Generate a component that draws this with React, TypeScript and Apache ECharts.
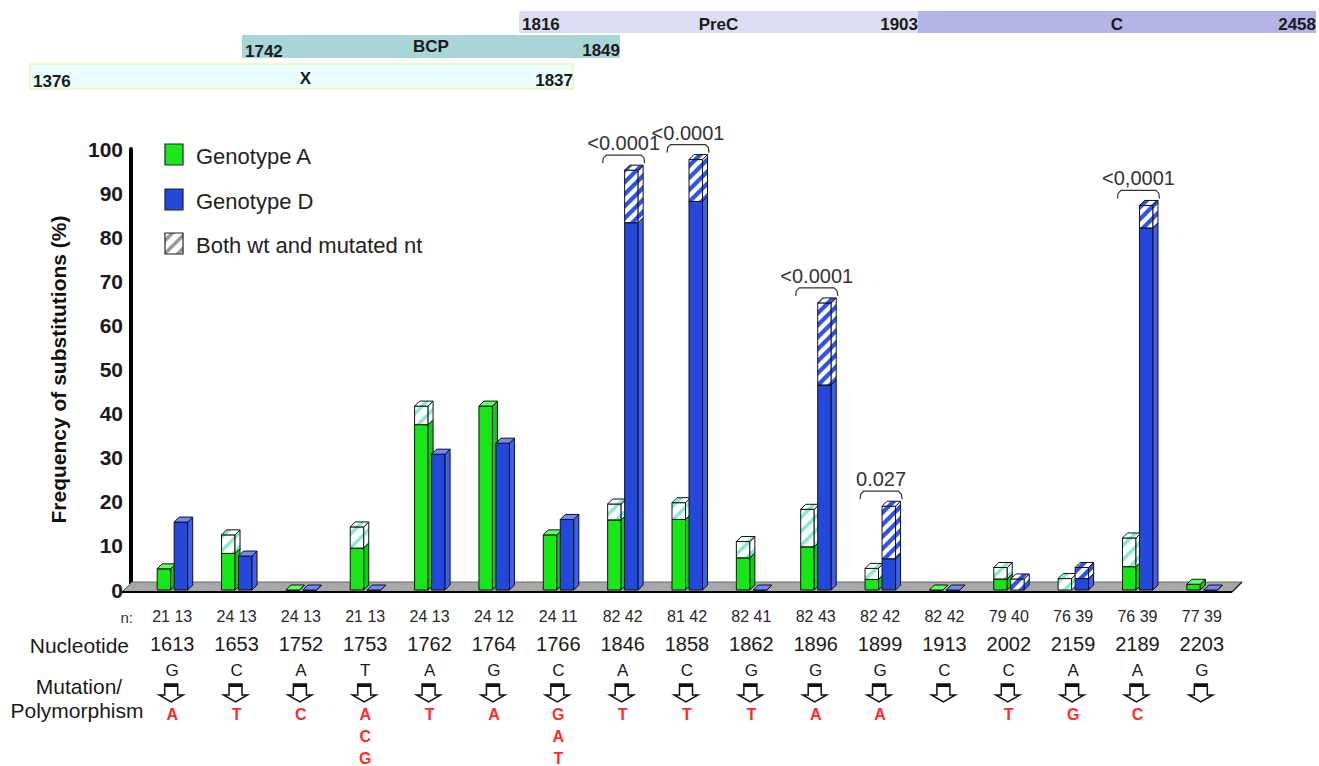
import React, { useEffect, useRef } from "react";
import * as echarts from "echarts";

const FONT = '"Liberation Sans", Arial, Helvetica, sans-serif';

// ---------- data ----------
const nucleotides = ["1613", "1653", "1752", "1753", "1762", "1764", "1766", "1846", "1858", "1862", "1896", "1899", "1913", "2002", "2159", "2189", "2203"];
const nGenotypeA = [21, 24, 24, 21, 24, 24, 24, 82, 81, 82, 82, 82, 82, 79, 76, 76, 77];
const nGenotypeD = [13, 13, 13, 13, 13, 12, 11, 42, 42, 41, 43, 42, 42, 40, 39, 39, 39];
const wildType = ["G", "C", "A", "T", "A", "G", "C", "A", "C", "G", "G", "G", "C", "C", "A", "A", "G"];
const mutated = [["A"], ["T"], ["C"], ["A", "C", "G"], ["T"], ["A"], ["G", "A", "T"], ["T"], ["T"], ["T"], ["A"], ["A"], [], ["T"], ["G"], ["C"], []];
// % with the mutated nt only (solid) and with both wt and mutated nt (hatched, stacked on top)
const genoASolid = [4.8, 8.3, 0, 9.5, 37.5, 41.7, 12.5, 15.9, 16.0, 7.3, 9.8, 2.4, 0, 2.5, 0, 5.3, 1.3];
const genoAMixed = [0, 4.2, 0, 4.8, 4.2, 0, 0, 3.6, 3.8, 3.7, 8.5, 2.5, 0, 2.6, 2.6, 6.5, 0];
const genoDSolid = [15.4, 7.7, 0, 0, 30.8, 33.3, 16.0, 83.3, 88.1, 0, 46.5, 7.1, 0, 0, 2.6, 82.1, 0];
const genoDMixed = [0, 0, 0, 0, 0, 0, 0, 11.9, 9.5, 0, 18.6, 11.9, 0, 2.5, 2.5, 5.1, 0];
const pIndex = [7, 8, 10, 11, 15];
const pLabel = ["<0.0001", "<0.0001", "<0.0001", "0.027", "<0,0001"];
const regionNames = ["PreC", "C", "BCP", "X"];
const regionStarts = ["1816", "", "1742", "1376"];
const regionEnds = ["1903", "2458", "1849", "1837"];
const legendNames = ["Genotype A", "Genotype D", "Both wt and mutated nt"];

// ---------- drawing helpers ----------
type Pt = [number, number];

function clipHalf(poly: Pt[], f: (p: Pt) => number): Pt[] {
  const out: Pt[] = [];
  for (let i = 0; i < poly.length; i++) {
    const a = poly[i];
    const b = poly[(i + 1) % poly.length];
    const fa = f(a);
    const fb = f(b);
    if (fa >= 0) out.push(a);
    if ((fa >= 0) !== (fb >= 0)) {
      const t = fa / (fa - fb);
      out.push([a[0] + t * (b[0] - a[0]), a[1] + t * (b[1] - a[1])]);
    }
  }
  return out;
}

function stripePolys(poly: Pt[], period: number, width: number, color: string): any[] {
  const sums = poly.map((p) => p[0] + p[1]);
  const lo = Math.min(...sums);
  const hi = Math.max(...sums);
  const els: any[] = [];
  for (let c = Math.floor(lo / period) * period; c < hi; c += period) {
    let s = clipHalf(poly, (p) => p[0] + p[1] - c);
    s = clipHalf(s, (p) => c + width - (p[0] + p[1]));
    if (s.length >= 3) els.push({ type: "polygon", silent: true, shape: { points: s }, style: { fill: color } });
  }
  return els;
}

interface Palette { front: string; side: string; top: string; hatch: string; period: number; width: number; }
const GREEN: Palette = { front: "#17e617", side: "#10cc10", top: "#62ff62", hatch: "#86eccb", period: 14, width: 5 };
const BLUE: Palette = { front: "#2447dc", side: "#3d5ff2", top: "#6f88ff", hatch: "#2f55e8", period: 12, width: 6 };

const BAR_W = 13.5;
const DEPTH = 5;

function face(points: Pt[], fill: string, pal: Palette, hatched: boolean): any[] {
  const els: any[] = [{ type: "polygon", shape: { points }, style: { fill: hatched ? "#ffffff" : fill } }];
  if (hatched) els.push(...stripePolys(points, pal.period, pal.width, pal.hatch));
  els.push({ type: "polygon", shape: { points }, style: { fill: "none", stroke: "#111", lineWidth: 1 } });
  return els;
}

function box3d(x0: number, yb: number, yt: number, pal: Palette, hatched: boolean): any[] {
  const w = BAR_W;
  const d = DEPTH;
  const front: Pt[] = [[x0, yt], [x0 + w, yt], [x0 + w, yb], [x0, yb]];
  const side: Pt[] = [[x0 + w, yb], [x0 + w + d, yb - d], [x0 + w + d, yt - d], [x0 + w, yt]];
  const top: Pt[] = [[x0, yt], [x0 + d, yt - d], [x0 + w + d, yt - d], [x0 + w, yt]];
  return [...face(front, pal.front, pal, hatched), ...face(side, pal.side, pal, hatched), ...face(top, pal.top, pal, hatched)];
}

function barSeries(name: string, solid: number[], mixed: number[], offset: number, pal: Palette, z: number) {
  return {
    type: "custom",
    name,
    z,
    coordinateSystem: "cartesian2d",
    data: solid.map((s, i) => [i, s, mixed[i]]),
    encode: { x: 0, y: 1 },
    renderItem: (params: any, api: any) => {
      const i = api.value(0) as number;
      const s = api.value(1) as number;
      const m = api.value(2) as number;
      const base = api.coord([i, 0]);
      const cx = base[0];
      const y0 = base[1];
      const y1 = api.coord([i, s])[1];
      const y2 = api.coord([i, s + m])[1];
      const x0 = cx + offset;
      let children: any[] = [];
      if (s <= 0 && m <= 0) {
        children = box3d(x0, y0, y0, pal, false);
      } else {
        if (s > 0) children.push(...box3d(x0, y0, y1, pal, false));
        if (m > 0) children.push(...box3d(x0, y1, y2, pal, true));
      }
      return { type: "group", children };
    },
  };
}

function txt(text: string, x: number, y: number, size: number, align: string, opts: any = {}) {
  return {
    type: "text",
    x,
    y,
    silent: true,
    style: {
      text,
      fill: opts.fill || "#1a1a1a",
      font: `${opts.bold ? "bold " : ""}${size}px ${FONT}`,
      textAlign: align,
      textVerticalAlign: "middle",
      align,
      verticalAlign: "middle",
    },
  };
}

function buildOption() {
  const totA = genoASolid.map((v, i) => v + genoAMixed[i]);
  const totD = genoDSolid.map((v, i) => v + genoDMixed[i]);

  // gene-region bands (annotation layout)
  const bandBoxes = [
    { x: 519, y: 11, w: 399, h: 22, fill: "#dcdcf2", stroke: "none" },
    { x: 918, y: 11, w: 398, h: 22, fill: "#b3b3e5", stroke: "none" },
    { x: 242, y: 35, w: 378, h: 23, fill: "#a8d6d8", stroke: "none" },
    { x: 30, y: 64, w: 543, h: 25, fill: "#ebfefe", stroke: "#f2f2b8" },
  ];
  const graphics: any[] = [];
  bandBoxes.forEach((b, k) => {
    graphics.push({ type: "rect", silent: true, z: -1, shape: { x: b.x, y: b.y, width: b.w, height: b.h }, style: { fill: b.fill, stroke: b.stroke, lineWidth: 1.5 } });
    const yMid = b.y + b.h / 2 + 2;
    if (regionStarts[k]) graphics.push(txt(regionStarts[k], b.x + 3, yMid + (k >= 2 ? 3 : 0), 17, "left", { bold: true }));
    graphics.push(txt(regionNames[k], b.x + b.w / 2 + (k === 3 ? 4 : 0), yMid - (k === 2 ? 2 : 0), 17, "center", { bold: true }));
    graphics.push(txt(regionEnds[k], b.x + b.w, yMid + (k >= 2 ? 2 : 0), 17, "right", { bold: true }));
  });

  // legend
  const legY = [155, 200, 244];
  graphics.push({ type: "rect", shape: { x: 165, y: legY[0] - 11, width: 18, height: 21 }, style: { fill: "#1ae81a", stroke: "#222", lineWidth: 1.2 } });
  graphics.push({ type: "rect", shape: { x: 165, y: legY[1] - 11, width: 18, height: 21 }, style: { fill: "#2447dc", stroke: "#222", lineWidth: 1.2 } });
  const hatchRect: Pt[] = [[165, legY[2] - 11], [183, legY[2] - 11], [183, legY[2] + 10], [165, legY[2] + 10]];
  graphics.push({ type: "polygon", shape: { points: hatchRect }, style: { fill: "#fff" } });
  stripePolys(hatchRect, 13, 5, "#9a9a9a").forEach((p) => graphics.push(p));
  graphics.push({ type: "polygon", shape: { points: hatchRect }, style: { fill: "none", stroke: "#222", lineWidth: 1.2 } });
  legendNames.forEach((n, k) => graphics.push(txt(n, 196, legY[k] + 1, 22, "left", { fill: "#222" })));

  // row titles under the axis
  graphics.push(txt("n:", 133, 617, 15, "right", { fill: "#333" }));
  graphics.push(txt("Nucleotide", 129, 645, 21, "right", { fill: "#1a1a1a" }));
  graphics.push(txt("Mutation/", 79, 686, 21, "center", { fill: "#1a1a1a" }));
  graphics.push(txt("Polymorphism", 77, 710, 21, "center", { fill: "#1a1a1a" }));

  const floorSeries = {
    type: "custom",
    name: "floor",
    z: 1,
    data: [[0, 0]],
    renderItem: (params: any, api: any) => {
      const cs = params.coordSys;
      const y0 = api.coord([0, 0])[1];
      const L = cs.x - 18;
      const R = cs.x + cs.width - 2;
      const D = 10;
      const yb = y0 + 2;
      return {
        type: "group",
        children: [
          { type: "polygon", shape: { points: [[L, yb], [R, yb], [R + D, yb - D], [L + D, yb - D]] }, style: { fill: "#a7a7a7", stroke: "#6a6a6a", lineWidth: 1 } },
          { type: "line", shape: { x1: L, y1: yb, x2: R, y2: yb }, style: { stroke: "#000", lineWidth: 2 } },
          { type: "line", shape: { x1: R, y1: yb, x2: R + D, y2: yb - D }, style: { stroke: "#222", lineWidth: 1.5 } },
        ],
      };
    },
  };

  const arrowSeries = {
    type: "custom",
    name: "arrows",
    z: 2,
    clip: false,
    data: nucleotides.map((_, i) => [i, 0]),
    renderItem: (params: any, api: any) => {
      const p = api.coord([api.value(0), 0]);
      const c = p[0] - 1;
      const t = p[1] + 94;
      const pts: Pt[] = [[c - 6.5, t], [c + 6.5, t], [c + 6.5, t + 11], [c + 12, t + 11], [c, t + 18], [c - 12, t + 11], [c - 6.5, t + 11]];
      return {
        type: "group",
        children: [
          { type: "polygon", shape: { points: pts }, style: { fill: "#fff", stroke: "#111", lineWidth: 1.5 } },
          { type: "rect", shape: { x: c - 6.5, y: t, width: 13, height: 3 }, style: { fill: "#111" } },
        ],
      };
    },
  };

  const pSeries = {
    type: "custom",
    name: "pvalues",
    z: 5,
    clip: false,
    data: pIndex.map((idx, k) => [idx, Math.max(totA[idx], totD[idx]), k]),
    renderItem: (params: any, api: any) => {
      const i = api.value(0);
      const v = api.value(1);
      const k = api.value(2);
      const p = api.coord([i, v]);
      const yb = p[1] - 15;
      const L = p[0] - 20;
      const R = p[0] + 22;
      return {
        type: "group",
        children: [
          { type: "polyline", shape: { points: [[L, yb + 8], [L + 0.6, yb + 3], [L + 3.5, yb], [R - 3.5, yb], [R - 0.6, yb + 3], [R, yb + 8]] }, style: { fill: "none", stroke: "#333", lineWidth: 1.2 } },
          { type: "text", x: (L + R) / 2, y: yb - 2, style: { text: pLabel[k], fill: "#333", font: `20px ${FONT}`, textAlign: "center", textVerticalAlign: "bottom", align: "center", verticalAlign: "bottom" } },
        ],
      };
    },
  };

  return {
    animation: false,
    backgroundColor: "#ffffff",
    textStyle: { fontFamily: FONT },
    grid: { left: 140, right: 85, top: 149, bottom: 175 },
    xAxis: {
      type: "category",
      data: nucleotides,
      axisLine: { show: false },
      axisTick: { show: false },
      splitLine: { show: false },
      axisLabel: {
        interval: 0,
        margin: 15,
        hideOverlap: false,
        formatter: (value: string, index: number) => {
          let s = `{n|${nGenotypeA[index]} ${nGenotypeD[index]}}\n{nuc|${value}}\n{wt|${wildType[index]}}\n{sp|\u00a0}`;
          mutated[index].forEach((m) => { s += `\n{mut|${m}}`; });
          return s;
        },
        rich: {
          n: { fontSize: 16, lineHeight: 22, color: "#2a2a2a", fontFamily: FONT },
          nuc: { fontSize: 20, lineHeight: 34, color: "#1a1a1a", fontFamily: FONT },
          wt: { fontSize: 17, lineHeight: 18, color: "#1a1a1a", fontFamily: FONT },
          sp: { fontSize: 10, lineHeight: 24 },
          mut: { fontSize: 16, lineHeight: 22, color: "#ff2b2b", fontWeight: "bold", fontFamily: FONT },
        },
      },
    },
    yAxis: {
      type: "value",
      min: 0,
      max: 100,
      interval: 10,
      offset: 9,
      name: "Frequency of substitutions (%)",
      nameLocation: "middle",
      nameGap: 62,
      nameTextStyle: { fontSize: 21, fontWeight: "bold", color: "#111", fontFamily: FONT },
      axisLine: { show: true, lineStyle: { color: "#000", width: 4 } },
      axisTick: { show: false },
      splitLine: { show: false },
      axisLabel: { margin: 8, fontSize: 21, fontWeight: "bold", color: "#1a1a1a", fontFamily: FONT },
    },
    graphic: graphics,
    series: [
      floorSeries,
      arrowSeries,
      barSeries("Genotype A", genoASolid, genoAMixed, -15, GREEN, 3),
      barSeries("Genotype D", genoDSolid, genoDMixed, 2, BLUE, 4),
      pSeries,
    ],
  };
}

export default function App() {
  const ref = useRef<HTMLDivElement>(null);
  useEffect(() => {
    document.body.style.margin = "0";
    const chart = echarts.init(ref.current as HTMLDivElement, null, { renderer: "svg" });
    chart.setOption(buildOption() as any);
    return () => chart.dispose();
  }, []);
  return <div ref={ref} style={{ width: 1319, height: 766, background: "#fff" }} />;
}
